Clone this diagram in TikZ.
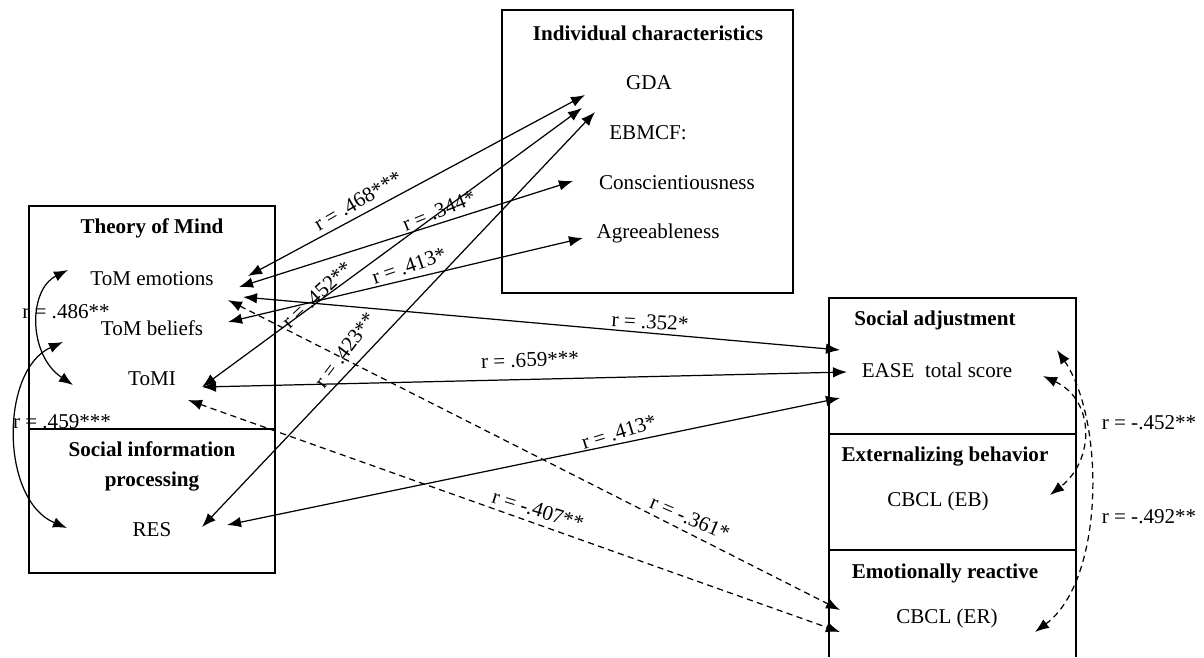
\documentclass[tikz,border=0pt]{standalone}
\usepackage{fontspec}
\setmainfont{Liberation Serif}
\usetikzlibrary{arrows.meta, calc}
\tikzset{every node/.style = {font=\fontsize{12}{14}\selectfont}}
\tikzset{head/.style = {font=\fontsize{12}{17}\selectfont\bfseries}}
\tikzset{box/.style = {draw, line width=0.8pt}}
\tikzset{edge/.style = {<->, >={Latex[length=8pt,width=6pt]}, line width=0.7pt}}
\tikzset{negedge/.style = {edge, dash pattern=on 3.5pt off 2.5pt}}
\tikzset{corr/.style = {inner sep=1pt}}

\begin{document}
\begin{tikzpicture}[x=0.02cm, y=-0.02cm]
        \useasboundingbox (0,0) rectangle (1204,657);
        \draw[box] (502,10) rectangle (793,293);
        \draw[box] (29,206) rectangle (275,573);
        \draw[box] (29,429) -- (275,429);
        \draw[box] (829,657) -- (829,298) -- (1076,298) -- (1076,657);
        \draw[box] (829,434) -- (1076,434);
        \draw[box] (829,550) -- (1076,550);

        \node[head] (indiv) at (648,33) {Individual characteristics};
        \node (gda) at (649,83) {GDA};
        \node (ebmcf) at (648,133) {EBMCF:};
        \node (consc) at (677,183) {Conscientiousness};
        \node (agree) at (658,233) {Agreeableness};

        \node[head] (tom) at (152,228) {Theory of Mind};
        \node (emo) at (152,279) {ToM emotions};
        \node (bel) at (152,328) {ToM beliefs};
        \node (tomi) at (152,379) {ToMI};
        \node[head, align=center] (sip) at (152,466) {Social information\\processing};
        \node (res) at (152,530) {RES};

        \node[head] (adj) at (935,320) {Social adjustment};
        \node (ease) at (937,370) {EASE\ \ total score};
        \node[head] (ext) at (945,456) {Externalizing behavior};
        \node (cbeb) at (938,501) {CBCL (EB)};
        \node[head] (react) at (945,573) {Emotionally reactive};
        \node (cber) at (947,618) {CBCL (ER)};

        \draw[edge] ($(emo)+(96,-3)$) to ($(gda)+(-64,12)$);
        \draw[edge] ($(emo)+(87,8)$) to ($(consc)+(-104,-2)$);
        \draw[edge] ($(tomi)+(50,8)$) to ($(gda)+(-67,25)$);
        \draw[edge] ($(bel)+(76,-6)$) to ($(agree)+(-75,5)$);
        \draw[edge] ($(res)+(50,-3)$) to ($(gda)+(-54,29)$);
        \draw[edge] ($(emo)+(91,18)$) to ($(ease)+(-97,-20)$);
        \draw[edge] ($(tomi)+(50,8)$) to ($(ease)+(-90,2)$);
        \draw[edge] ($(res)+(75,-5)$) to ($(ease)+(-97,28)$);
        \draw[negedge] ($(emo)+(76,21)$) to ($(cber)+(-107,-8)$);
        \draw[negedge] ($(tomi)+(36,21)$) to ($(cber)+(-107,14)$);

        \draw[edge] ($(emo)+(-84,-9)$) .. controls (28,290) and (28,355) .. ($(tomi)+(-79,6)$);
        \draw[edge] ($(bel)+(-89,14)$) .. controls (0,370) and (0,500) .. ($(res)+(-85,-2)$);
        \draw[negedge] ($(ease)+(106,6)$) .. controls (1095,400) and (1095,460) .. ($(cbeb)+(112,-6)$);
        \draw[negedge] ($(ease)+(120,-20)$) .. controls (1105,420) and (1105,580) .. ($(cber)+(88,14)$);

        \node[corr, rotate=30] (r468) at (358,201) {r = .468***};
        \node[corr, rotate=22] (r344) at (439,211) {r = .344*};
        \node[corr, rotate=43] (r452) at (317,295) {r = .452**};
        \node[corr, rotate=19] (r413a) at (409,266) {r = .413*};
        \node[corr, rotate=53] (r423) at (345,350) {r = .423**};
        \node[corr, rotate=-3] (r352) at (650,322) {r = .352*};
        \node[corr, rotate=2] (r659) at (530,360) {r = .659***};
        \node[corr, rotate=17] (r413b) at (619,432) {r = .413*};
        \node[corr, rotate=-17] (r407) at (538,510) {r = -.407**};
        \node[corr, rotate=-23] (r361) at (690,518) {r = -.361*};
        \node[corr] (r486) at (66,312) {r = .486**};
        \node[corr] (r459) at (62,422) {r = .459***};
        \node[corr] (r452n) at (1149,423) {r = -.452**};
        \node[corr] (r492) at (1149,517) {r = -.492**};
    \end{tikzpicture}
\end{document}
